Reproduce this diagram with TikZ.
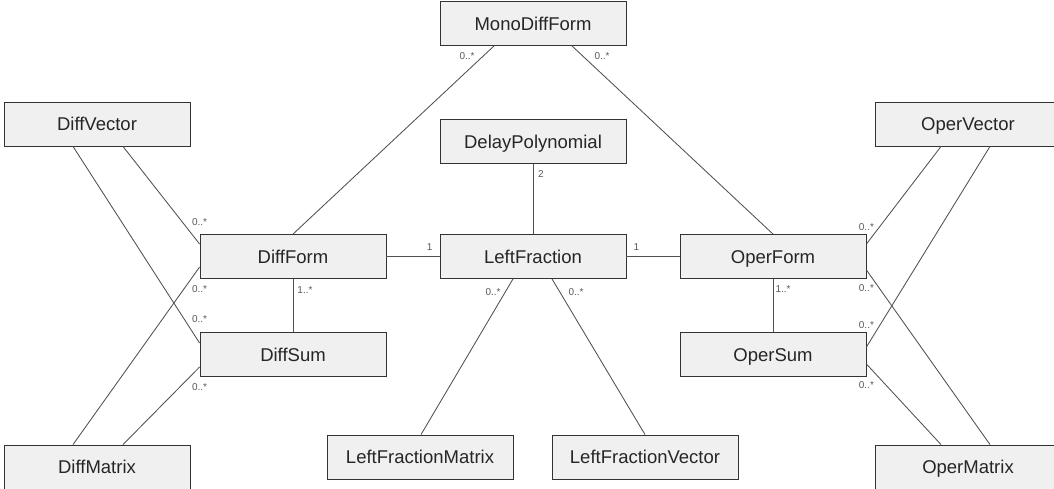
\documentclass[tikz,border=0pt]{standalone}
\usepackage{fontspec}
\setmainfont{Liberation Sans}
\usepackage{tikz}
\usetikzlibrary{positioning}
\definecolor{boxgray}{HTML}{F0F0F0}
\definecolor{linegray}{HTML}{505050}

\begin{document}
\begin{tikzpicture}[x=1pt, y=-1pt, line width=0.85pt,
            class/.style ={rectangle, draw=black!80, fill=boxgray, text=black!85,
            minimum width=186pt, minimum height=44pt, inner sep=0pt,
            text height=17pt, text depth=4pt,
            font=\fontsize{18.5}{22}\selectfont},
            assoc/.style ={draw=linegray},
            mult/.style ={font=\fontsize{10}{12}\selectfont, text=black!65, inner sep=0pt}]

        \clip (0,0) rectangle (1054,488);

        % clases
        \node[class] (MonoDiffForm) at (533, 23.5) {MonoDiffForm};
        \node[class] (DelayPolynomial) at (533, 141.5) {DelayPolynomial};
        \node[class] (LeftFraction) at (533, 256.5) {LeftFraction};
        \node[class] (DiffForm) at (293, 256.5) {DiffForm};
        \node[class] (DiffSum) at (293, 354.5) {DiffSum};
        \node[class] (OperForm) at (773, 256.5) {OperForm};
        \node[class] (OperSum) at (773, 354.5) {OperSum};
        \node[class] (DiffVector) at (97, 124) {DiffVector};
        \node[class] (DiffMatrix) at (97, 467) {DiffMatrix};
        \node[class] (OperVector) at (968, 124) {OperVector};
        \node[class] (OperMatrix) at (968, 467) {OperMatrix};
        \node[class] (LeftFractionMatrix) at (420, 457) {LeftFractionMatrix};
        \node[class] (LeftFractionVector) at (645, 457) {LeftFractionVector};

        % asociaciones centrales
        \path[assoc] ([xshift=-39]MonoDiffForm.south) edge node[mult, at start, xshift=-27, yshift=-10] {0..*} (DiffForm.north);
        \path[assoc] ([xshift=39]MonoDiffForm.south) edge node[mult, at start, xshift=30, yshift=-10] {0..*} (OperForm.north);
        \path[assoc] (DelayPolynomial.south) edge node[mult, at start, xshift=8, yshift=-10] {2} (LeftFraction.north);
        \path[assoc] (DiffForm.east) edge node[mult, at end, xshift=-10, yshift=9] {1} (LeftFraction.west);
        \path[assoc] (LeftFraction.east) edge node[mult, at start, xshift=10, yshift=9] {1} (OperForm.west);
        \path[assoc] (DiffForm.south) edge node[mult, at start, xshift=12, yshift=-11] {1..*} (DiffSum.north);
        \path[assoc] (OperForm.south) edge node[mult, at start, xshift=10, yshift=-10] {1..*} (OperSum.north);
        \path[assoc] ([xshift=-20]LeftFraction.south) edge node[mult, at start, xshift=-20, yshift=-13] {0..*} ([xshift=1]LeftFractionMatrix.north);
        \path[assoc] ([xshift=19]LeftFraction.south) edge node[mult, at start, xshift=24, yshift=-13] {0..*} (LeftFractionVector.north);

        % lado izquierdo
        \path[assoc] ([xshift=26]DiffVector.south) edge node[mult, at end, yshift=22] {0..*} ([yshift=12.5]DiffForm.west);
        \path[assoc] ([xshift=-24]DiffVector.south) edge node[mult, at end, yshift=24] {0..*} ([yshift=11.5]DiffSum.west);
        \path[assoc] ([yshift=-10.5]DiffForm.west) edge node[mult, at start, yshift=-22] {0..*} ([xshift=-24]DiffMatrix.north);
        \path[assoc] ([yshift=-12.5]DiffSum.west) edge node[mult, at start, yshift=-20] {0..*} ([xshift=26]DiffMatrix.north);

        % lado derecho
        \path[assoc] ([xshift=-27]OperVector.south) edge node[mult, at end, yshift=17] {0..*} ([yshift=12.5]OperForm.east);
        \path[assoc] ([xshift=22]OperVector.south) edge node[mult, at end, yshift=22] {0..*} ([yshift=7.5]OperSum.east);
        \path[assoc] ([yshift=-13.5]OperForm.east) edge node[mult, at start, yshift=-18] {0..*} ([xshift=22]OperMatrix.north);
        \path[assoc] ([yshift=-9.5]OperSum.east) edge node[mult, at start, yshift=-21] {0..*} ([xshift=-27]OperMatrix.north);
    \end{tikzpicture}
\end{document}
